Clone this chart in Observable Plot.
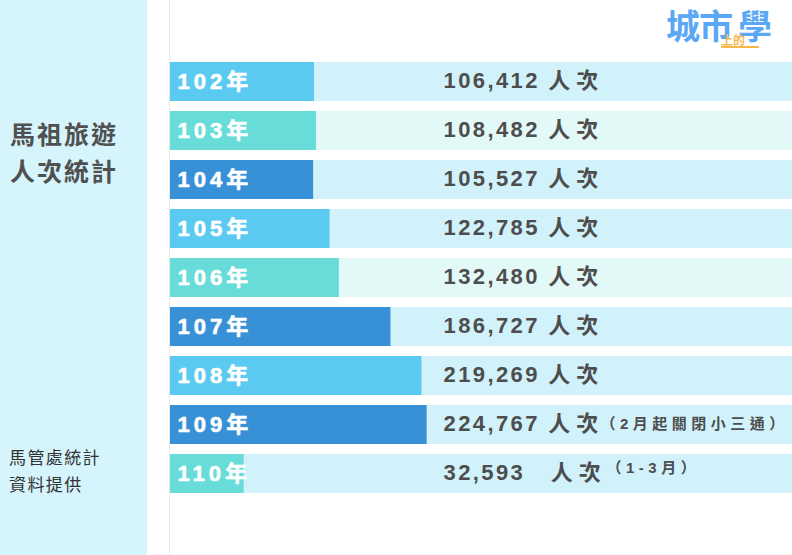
<!DOCTYPE html>
<html>
<head>
<meta charset="utf-8">
<script src="https://cdn.jsdelivr.net/npm/d3@7"></script>
<script src="https://cdn.jsdelivr.net/npm/@observablehq/plot@0.6"></script>
<style>
  html, body { margin: 0; padding: 0; background: #fff; }
  #wrap { position: relative; width: 792px; height: 555px; overflow: hidden; font-family: "Liberation Sans", "Noto Sans CJK TC", sans-serif; }
  #side { position: absolute; left: 0; top: 0; width: 147px; height: 555px; background: #d5f4fc; }
  #title { position: absolute; left: 10px; top: 115px; font-family: "Noto Sans CJK TC", sans-serif; font-size: 25px; font-weight: 700; line-height: 37px; letter-spacing: 2px; color: #505050; margin: 0; }
  #caption { position: absolute; left: 9px; top: 444px; font-family: "Noto Sans CJK TC", sans-serif; font-size: 17px; font-weight: 400; line-height: 26.5px; letter-spacing: 1.4px; color: #333; margin: 0; }
  #chart { position: absolute; left: 147px; top: 0; }
  #logo { position: absolute; left: 666px; top: 5px; width: 110px; height: 44px; font-family: "Noto Sans CJK TC", sans-serif; font-weight: 700; font-size: 34px; color: #5aa8f5; }
  #logo .big { position: absolute; top: 0; white-space: nowrap; line-height: 40px; letter-spacing: -1px; }
  #logo .small { position: absolute; left: 55px; top: 29px; white-space: nowrap; font-size: 12px; color: #f7b84b; line-height: 12px; border-bottom: 2px solid #f7b84b; padding-right: 14px; }
</style>
</head>
<body>
<div id="wrap">
  <div id="side"></div>
  <div id="title">馬祖旅遊<br>人次統計</div>
  <div id="caption">馬管處統計<br>資料提供</div>
  <div id="chart"></div>
  <div id="logo"><span class="big" style="left:0">城市</span><span class="big" style="left:72px">學</span><span class="small">上的</span></div>
</div>
<script>
// ---- data ----
const years = [102, 103, 104, 105, 106, 107, 108, 109, 110];
const visitors = [106412, 108482, 105527, 122785, 132480, 186727, 219269, 224767, 32593];
const barTones = ["sky", "teal", "blue", "sky", "teal", "blue", "sky", "blue", "teal"];
const trackTones = ["pale", "mint", "pale", "pale", "mint", "pale", "pale", "pale", "pale"];
const notes = ["", "", "", "", "", "", "", "（2月起關閉小三通）", "（1-3月）"];
const unit = "人次";
const yearSuffix = "年";

const rows = years.map((y, i) => ({
  year: y,
  value: visitors[i],
  tone: barTones[i],
  track: trackTones[i],
  note: notes[i]
}));

// scale domain fitted to the drawn bar lengths
const xMin = -44850, xMax = 608500;
const fmt = d3.format(",");
const font = "'Liberation Sans', 'Noto Sans CJK TC', sans-serif";

const chart = Plot.plot({
  width: 645,
  height: 555,
  marginLeft: 23,
  marginRight: 0,
  marginTop: 0,
  marginBottom: 0,
  style: { background: "transparent", fontFamily: font, overflow: "visible" },
  x: { domain: [xMin, xMax], axis: null },
  y: { domain: years, range: [61, 494], paddingInner: 0.2, paddingOuter: 0, axis: null },
  color: {
    domain: ["sky", "teal", "blue", "pale", "mint"],
    range: ["#5acaf0", "#67dcd9", "#3891d6", "#d1f2fb", "#e3f9f7"]
  },
  marks: [
    Plot.ruleX([xMin], { stroke: "#e8e8e8", strokeWidth: 1, dx: -1 }),
    Plot.barX(rows, { y: "year", x1: () => xMin, x2: () => xMax, fill: "track" }),
    Plot.barX(rows, { y: "year", x1: () => xMin, x2: "value", fill: "tone" }),
    Plot.text(rows, {
      y: "year", text: d => d.year + yearSuffix, frameAnchor: "left", textAnchor: "start",
      dx: 7, fill: "white", stroke: "white", strokeWidth: 0.6, fontSize: 22, fontWeight: "bold"
    }),
    Plot.text(rows, {
      y: "year",
      text: d => fmt(d.value) + (d.note === notes[8] ? "\u00a0\u00a0 " : " ") + unit,
      frameAnchor: "left", textAnchor: "start", dx: 273, dy: -1,
      fill: "#4d4d4d", fontSize: 22, fontWeight: "bold"
    }),
    Plot.text(rows.filter(d => d.note === notes[7]), {
      y: "year", text: "note", frameAnchor: "left", textAnchor: "start", dx: 430, dy: -1,
      fill: "#4d4d4d", fontSize: 15, fontWeight: "bold"
    }),
    Plot.text(rows.filter(d => d.note === notes[8]), {
      y: "year", text: "note", frameAnchor: "left", textAnchor: "start", dx: 436, dy: -6,
      fill: "#4d4d4d", fontSize: 15, fontWeight: "bold"
    })
  ]
});
// letter spacing per text kind
d3.select(chart).selectAll("text").each(function () {
  const t = this.textContent;
  if (t.endsWith(yearSuffix)) {
    this.style.letterSpacing = "4px";
  } else if (t.includes(unit)) {
    const cut = t.indexOf(unit);
    const head = t.slice(0, cut), tail = t.slice(cut);
    this.textContent = "";
    const ns = "http://www.w3.org/2000/svg";
    const a = document.createElementNS(ns, "tspan");
    a.textContent = head;
    a.style.letterSpacing = "2.4px";
    const b = document.createElementNS(ns, "tspan");
    b.textContent = tail;
    b.style.letterSpacing = "6px";
    this.appendChild(a);
    this.appendChild(b);
  } else if (t.startsWith("（")) {
    this.style.letterSpacing = "4.5px";
  }
});
document.getElementById("chart").appendChild(chart);
</script>
</body>
</html>
